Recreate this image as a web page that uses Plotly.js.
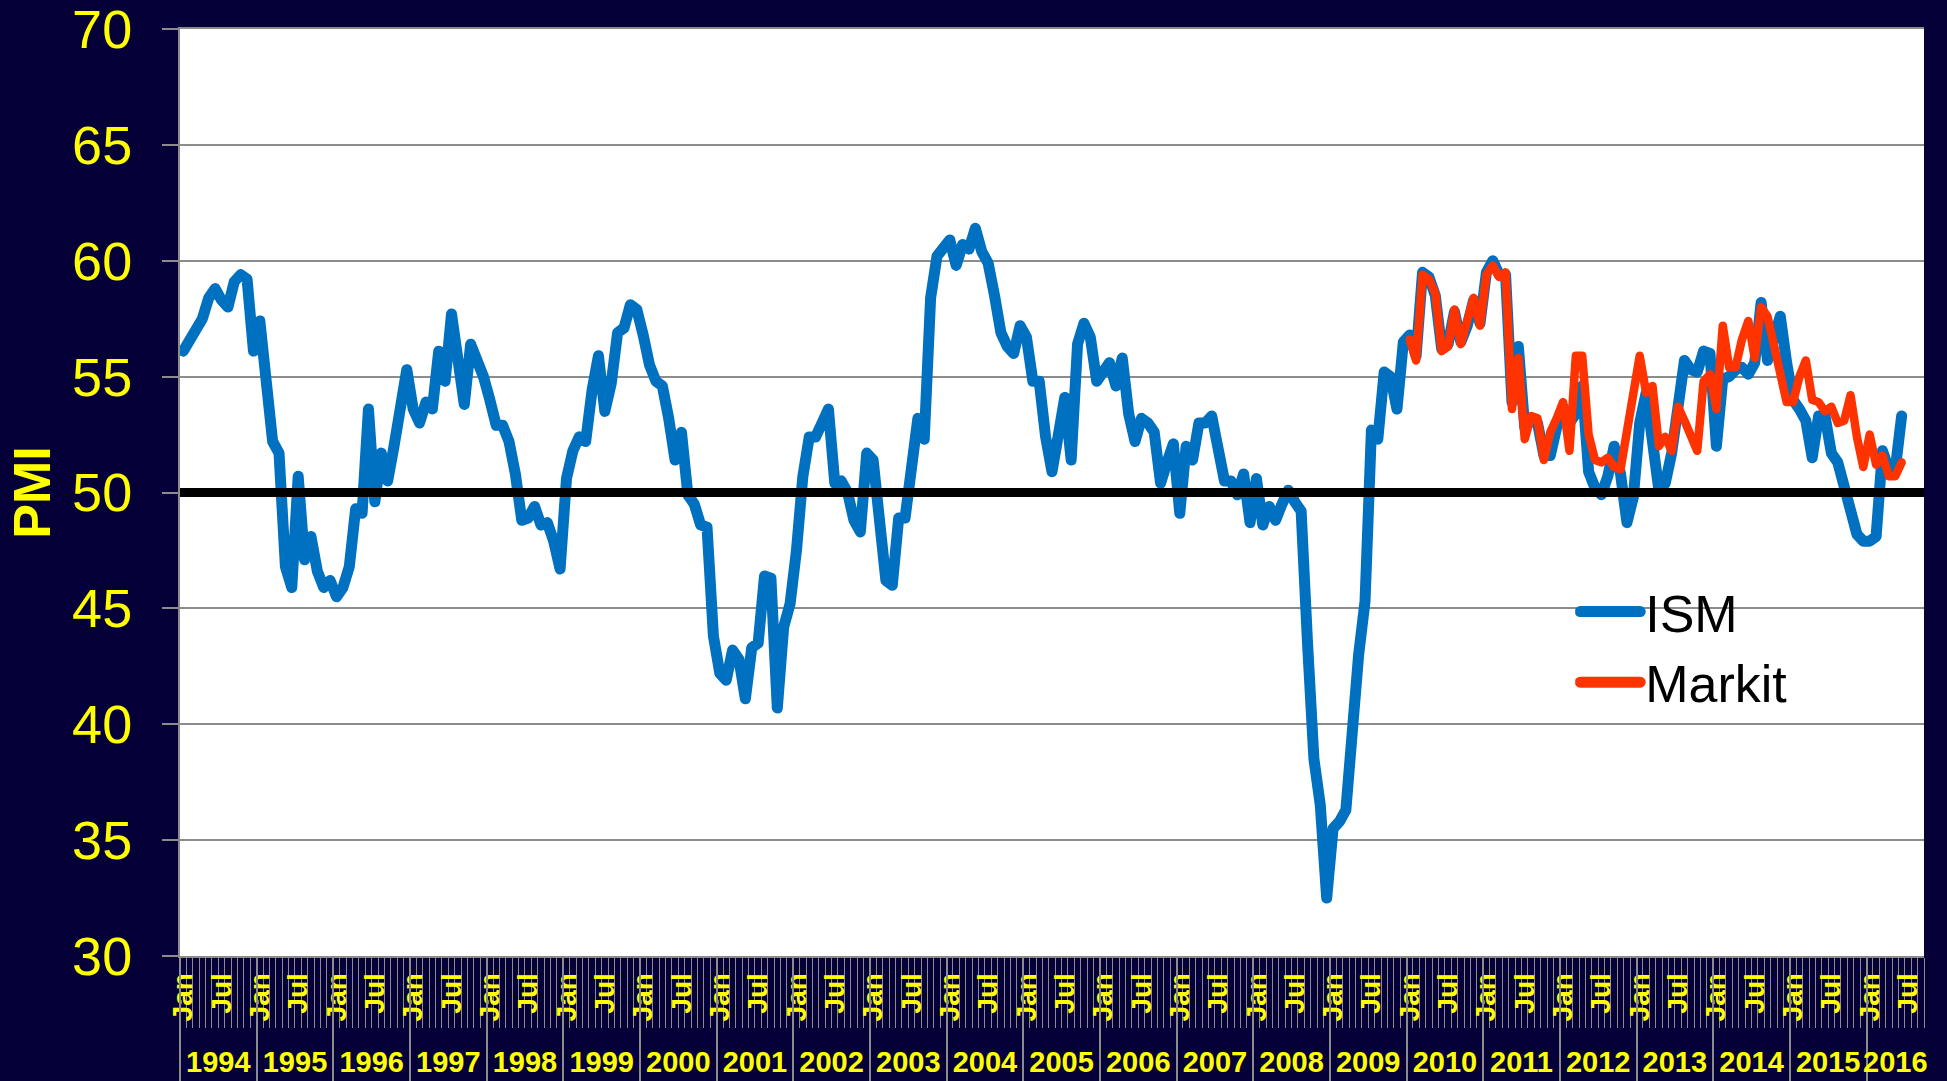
<!DOCTYPE html>
<html>
<head>
<meta charset="utf-8">
<script src="https://cdn.plot.ly/plotly-3.0.1.min.js"></script>
<style>
html,body{margin:0;padding:0;background:#050038;}
#chart{width:1947px;height:1081px;}
.scatterlayer .js-line,.legendlines .js-line{stroke-linejoin:round;stroke-linecap:round;}
.legendlines .js-line{stroke-width:11px !important;}
</style>
</head>
<body>
<div id="chart"></div>
<script>
// ---- categories / tick labels ----
const years = [1994,1995,1996,1997,1998,1999,2000,2001,2002,2003,2004,2005,2006,2007,2008,2009,2010,2011,2012,2013,2014,2015,2016];
const monthNames = ['Jan','Feb','Mar','Apr','May','Jun','Jul','Aug','Sep','Oct','Nov','Dec'];
const monthsInLastYear = 9;            // category axis runs to Sep 2016
const labeledMonths = ['Jan','Jul'];
const yTicks = [30,35,40,45,50,55,60,65,70];
const referenceLevel = 50;

// ---- series values (monthly) ----
const ismStart = 'Jan 1994';
const ism = [
 56.1,56.5,57.1,57.5,58.4,58.8,58.3,58.0,59.1,59.4,59.2,56.1,
 57.4,55.1,52.2,51.7,46.8,45.9,50.7,47.1,48.1,46.6,45.9,46.2,
 45.5,45.9,46.8,49.3,49.1,53.6,49.6,51.7,50.5,52.0,53.6,55.3,
 53.6,53.0,53.9,53.6,56.1,54.8,57.7,55.9,53.8,56.4,55.8,55.0,
 54.0,52.9,52.9,52.2,50.8,48.8,48.9,49.4,48.6,48.7,47.9,46.7,
 50.6,51.8,52.4,52.2,54.4,55.9,53.5,54.7,56.9,57.1,58.1,57.9,
 56.8,55.5,54.8,54.6,53.2,51.4,52.6,49.9,49.5,48.6,48.5,43.8,
 42.2,41.9,43.2,42.8,41.1,43.3,43.5,46.4,46.3,40.7,44.2,45.2,
 47.5,50.7,52.4,52.4,53.0,53.6,50.4,50.5,50.0,48.8,48.3,51.7,
 51.4,48.8,46.2,46.0,48.9,48.9,51.0,53.2,52.3,58.4,60.2,60.6,
 60.9,59.8,60.7,60.5,61.4,60.4,59.9,58.5,56.9,56.3,56.0,57.2,
 56.7,54.8,54.8,52.4,50.9,52.5,54.1,51.4,56.4,57.3,56.7,54.8,
 55.2,55.6,54.6,55.8,53.4,52.2,53.2,53.0,52.6,50.4,51.3,52.1,
 49.1,52.0,51.4,53.0,53.0,53.3,51.9,50.5,50.5,49.9,50.8,48.7,
 50.6,48.6,49.4,48.8,49.5,50.1,49.6,49.2,43.5,38.5,36.5,32.5,
 35.5,35.8,36.3,40.1,43.0,45.3,52.7,52.3,55.2,55.0,53.6,56.5,
 56.8,55.9,59.5,59.3,58.5,56.2,56.4,57.8,56.5,57.2,58.3,57.3,
 59.5,60.0,59.4,59.4,53.9,56.3,52.8,53.1,53.0,51.6,51.6,52.8,
 53.7,53.0,53.4,54.6,50.9,50.2,49.9,50.7,52.0,50.8,48.7,49.8,
 53.0,54.3,52.4,50.1,50.4,51.7,53.7,55.7,55.3,55.2,56.1,56.0,
 52.0,54.9,55.0,55.3,55.4,55.1,55.6,58.2,55.7,56.6,57.6,55.6,
 54.0,53.6,53.1,51.5,53.3,53.3,51.7,51.3,50.4,49.2,48.2,47.9,
 47.9,48.1,51.8,51.0,51.0,53.3
];
const markitStart = 'Jan 2010';
const markit = [
 56.6,55.7,59.4,59.2,58.6,56.1,56.3,57.9,56.4,57.3,58.4,57.2,
 59.4,59.8,59.3,59.5,53.6,55.8,52.3,53.3,53.2,51.4,52.6,53.2,
 53.9,51.8,55.9,55.9,52.5,51.4,51.3,51.5,51.1,51.0,52.8,54.1,
 55.9,54.3,54.6,52.0,52.4,51.8,53.7,53.1,52.5,51.8,54.8,55.1,
 53.6,57.2,55.4,55.4,56.6,57.4,55.8,58.0,57.6,56.3,55.0,53.9,
 53.9,55.0,55.7,54.0,53.9,53.5,53.7,53.0,53.1,54.2,52.4,51.1,
 52.5,51.2,51.6,50.7,50.7,51.3
];

// ---- build the monthly category axis ----
const categories = [];
const yearStarts = [], yearCounts = [];
years.forEach((yr, k) => {
  const n = (k === years.length - 1) ? monthsInLastYear : 12;
  yearStarts.push(categories.length);
  yearCounts.push(n);
  for (let m = 0; m < n; m++) categories.push(monthNames[m] + ' ' + yr);
});
const nCat = categories.length;
const catIndex = label => categories.indexOf(label);

const monthTickVals = [], monthTickText = [];
categories.forEach((c, i) => {
  const mon = c.split(' ')[0];
  if (labeledMonths.includes(mon)) { monthTickVals.push(i); monthTickText.push(mon); }
});
const yearCenters = years.map((y, k) => yearStarts[k] + (yearCounts[k] - 1) / 2);
const yearBounds = yearStarts.map(s => s - 0.5);

const ismX = ism.map((v, i) => catIndex(ismStart) + i);
const markitX = markit.map((v, i) => catIndex(markitStart) + i);

const FONT = 'Liberation Sans, Arial, Helvetica, sans-serif';
const YELLOW = '#FFFF00';
const GRAY = '#8c8c8c';

const data = [
  {x: ismX, y: ism, name: 'ISM', type: 'scatter', mode: 'lines',
   text: ism.map((v, i) => categories[ismX[i]]), hovertemplate: '%{text}: %{y}<extra>ISM</extra>',
   line: {color: '#0070C0', width: 11}},
  {x: markitX, y: markit, name: 'Markit', type: 'scatter', mode: 'lines',
   text: markit.map((v, i) => categories[markitX[i]]), hovertemplate: '%{text}: %{y}<extra>Markit</extra>',
   line: {color: '#FF3300', width: 8.5}},
  {x: [], y: [], xaxis: 'x2', type: 'scatter', mode: 'lines', showlegend: false, hoverinfo: 'skip'}
];

const layout = {
  width: 1947, height: 1081,
  margin: {l: 180, r: 23, t: 29, b: 125, pad: 0},
  paper_bgcolor: '#050038',
  plot_bgcolor: '#FFFFFF',
  font: {family: FONT, color: YELLOW},
  showlegend: true,
  legend: {x: 0.8, xanchor: 'left', y: 0.415, yanchor: 'top',
           bgcolor: 'rgba(0,0,0,0)', borderwidth: 0,
           font: {family: FONT, size: 52, color: '#000000'}, itemwidth: 60, tracegroupgap: 0},
  xaxis: {
    type: 'linear', range: [-0.5, nCat - 0.5], fixedrange: true,
    tickmode: 'array', tickvals: monthTickVals, ticktext: monthTickText,
    tickangle: -90, ticks: '', ticklabelstandoff: 4, ticklabeloverflow: 'allow',
    tickfont: {family: FONT, size: 28, color: YELLOW, weight: 'bold'},
    showline: true, linecolor: GRAY, linewidth: 2, mirror: true,
    showgrid: false, zeroline: false,
    minor: {tickmode: 'linear', tick0: -0.5, dtick: 1, ticks: 'outside', ticklen: 70,
            tickwidth: 1, tickcolor: GRAY, showgrid: false}
  },
  xaxis2: {
    type: 'linear', range: [-0.5, nCat - 0.5], overlaying: 'x', anchor: 'y', side: 'bottom',
    tickmode: 'array', tickvals: yearCenters, ticktext: years.map(String),
    ticks: '', ticklabelstandoff: 86, ticklabeloverflow: 'allow',
    tickfont: {family: FONT, size: 29, color: YELLOW, weight: 'bold'},
    showline: false, showgrid: false, zeroline: false,
    minor: {tickmode: 'array', tickvals: yearBounds, ticks: 'outside', ticklen: 125,
            tickwidth: 1.5, tickcolor: GRAY, showgrid: false}
  },
  yaxis: {
    range: [30, 70], fixedrange: true,
    tickmode: 'array', tickvals: yTicks, ticks: 'outside', ticklen: 16, tickwidth: 2, tickcolor: GRAY,
    ticklabelstandoff: 19, ticklabeloverflow: 'allow',
    tickfont: {family: FONT, size: 54, color: YELLOW},
    showgrid: true, gridcolor: GRAY, gridwidth: 1.5,
    showline: true, linecolor: GRAY, linewidth: 2, zeroline: false,
    title: {text: 'PMI', standoff: 5, font: {family: FONT, size: 52, color: YELLOW, weight: 'bold'}}
  },
  shapes: [
    {type: 'line', xref: 'paper', x0: 0, x1: 1, yref: 'y', y0: referenceLevel, y1: referenceLevel,
     layer: 'above', line: {color: '#000000', width: 9}}
  ]
};

Plotly.newPlot('chart', data, layout, {displayModeBar: false, responsive: false});
</script>
</body>
</html>
